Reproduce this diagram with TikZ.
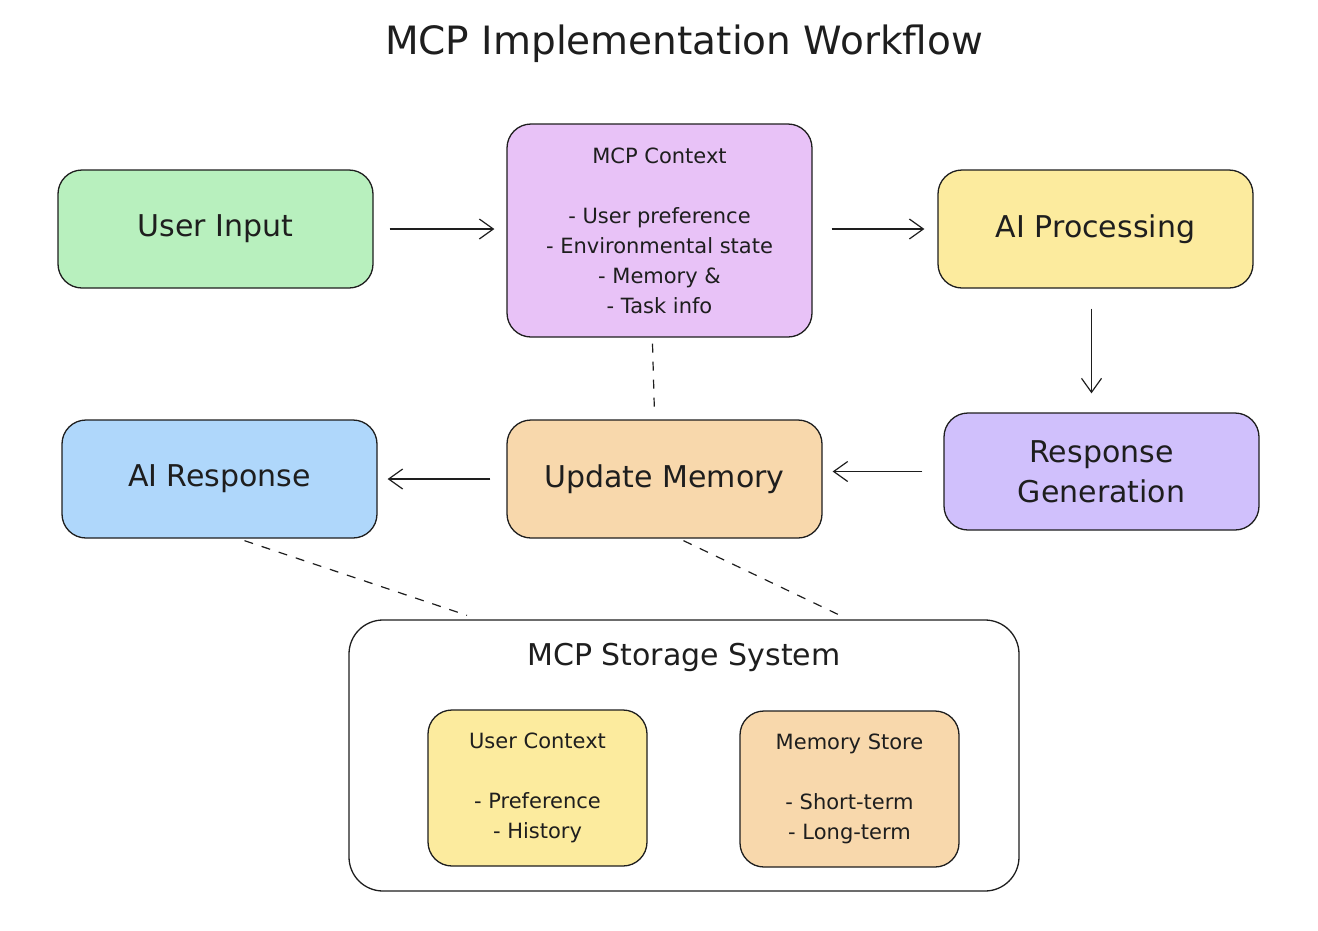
\documentclass[tikz,border=0pt]{standalone}
\usepackage{fontspec}
\setmainfont{DejaVu Sans}
\usetikzlibrary{arrows.meta,calc}
\definecolor{cgreen}{HTML}{B8F0BE}
\definecolor{cviolet}{HTML}{E8C2F7}
\definecolor{cyellow}{HTML}{FCEB9E}
\definecolor{cpurple}{HTML}{D0C0FC}
\definecolor{corange}{HTML}{F8D8AC}
\definecolor{cblue}{HTML}{AFD7FB}
\definecolor{ink}{HTML}{1E1E1E}
\tikzset{
  box/.style={draw=ink, line width=1.3pt, rounded corners=24pt, align=center,
    inner sep=0pt, text=ink, font=\fontsize{30}{40}\selectfont},
  smallbox/.style={box, font=\fontsize{21}{30}\selectfont},
  flow/.style={draw=ink, line width=1.2pt, -{Straight Barb[length=14pt,width=20pt,line width=1.2pt]}},
  dashln/.style={draw=ink, line width=1.2pt, dash pattern=on 9pt off 9pt},
}
\begin{document}
\begin{tikzpicture}[x=1pt,y=-1pt]
\useasboundingbox (0,0) rectangle (1318,930);
\node[text=ink, font=\fontsize{39}{46}\selectfont] (title) at (684,44) {MCP Implementation Workflow};
\node[box, fill=cgreen, minimum width=315pt, minimum height=118pt] (ui) at (215.5,229) {User Input};
\node[smallbox, fill=cviolet, minimum width=305pt, minimum height=213pt] (ctx) at (659.5,230.5)
  {MCP Context\\[30pt]- User preference\\- Environmental state\\- Memory \&\\- Task info};
\node[box, fill=cyellow, minimum width=315pt, minimum height=118pt] (aip) at (1095.5,229) {AI Processing};
\node[box, fill=cpurple, minimum width=315pt, minimum height=117pt] (rg) at (1101.5,471.5) {Response\\Generation};
\node[box, fill=corange, minimum width=315pt, minimum height=118pt] (um) at (664.5,479) {Update Memory};
\node[box, fill=cblue, minimum width=315pt, minimum height=118pt] (ar) at (219.5,479) {AI Response};
\node[box, fill=white, rounded corners=34pt, minimum width=670pt, minimum height=271pt] (st) at (684,755.5) {};
\node[text=ink, font=\fontsize{30}{36}\selectfont] (stt) at (684,657) {MCP Storage System};
\node[smallbox, fill=cyellow, minimum width=219pt, minimum height=156pt] (uc) at (537.5,788)
  {User Context\\[30pt]- Preference\\- History};
\node[smallbox, fill=corange, minimum width=219pt, minimum height=156pt] (ms) at (849.5,789)
  {Memory Store\\[30pt]- Short-term\\- Long-term};
\draw[flow, shorten <=16pt, shorten >=12pt] (ui.east) -- (ctx.west |- ui.east);
\draw[flow, shorten <=19pt, shorten >=13pt] (ctx.east |- aip.west) -- (aip.west);
\draw[flow, shorten <=20pt, shorten >=19pt] ([xshift=-4pt]aip.south) -- ([xshift=-10pt]rg.north);
\draw[flow, shorten <=21pt, shorten >=10pt] (rg.west) -- (um.east |- rg.west);
\draw[flow, shorten <=16pt, shorten >=10pt] (um.west) -- (ar.east);
\draw[dashln] ([xshift=-7pt,yshift=-6pt]ctx.south) -- ([xshift=-10pt,yshift=5pt]um.north);
\draw[dashln] ([xshift=25pt,yshift=-2pt]ar.south) -- ([xshift=-217pt,yshift=4pt]st.north);
\draw[dashln] ([xshift=19pt,yshift=-2pt]um.south) -- ([xshift=156pt,yshift=4pt]st.north);
\end{tikzpicture}
\end{document}
